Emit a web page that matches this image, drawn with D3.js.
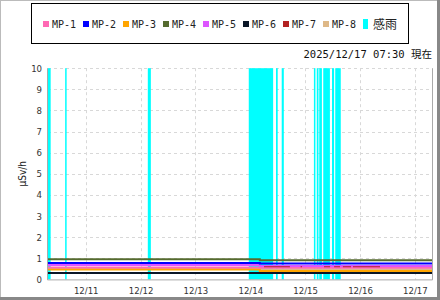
<!DOCTYPE html>
<html><head><meta charset="utf-8">
<script src="https://cdn.jsdelivr.net/npm/d3@7"></script>
<style>
body{margin:0;background:#fff;}
svg{display:block;}
</style></head>
<body>
<svg id="chart" width="440" height="300"></svg>
<script>
const categories = ["MP-1","MP-2","MP-3","MP-4","MP-5","MP-6","MP-7","MP-8"];
const seriesColors = ["#ff69b4","#0000ff","#ffa500","#556b2f","#dd55ff","#0a1626","#b22222","#deb887"];
const rainLabel = "感雨";
const rainColor = "#00ffff";
const yTicks = [0,1,2,3,4,5,6,7,8,9,10];
const xTickDates = ["2025-12-11","2025-12-12","2025-12-13","2025-12-14","2025-12-15","2025-12-16","2025-12-17"];
const xTickLabels = ["12/11","12/12","12/13","12/14","12/15","12/16","12/17"];
const timeStart = "2025-12-10T07:30";
const timeEnd = "2025-12-17T07:30";
const stampText = "2025/12/17 07:30 現在";
const yTitle = "µSv/h";

// step series [time, value]; null value = gap
const mp1 = [["2025-12-10T07:30",0.56],["2025-12-14T04:10",0.55],["2025-12-17T07:30",0.55]];
const mp2 = [["2025-12-10T07:30",0.78],["2025-12-14T04:10",0.75],["2025-12-17T07:30",0.75]];
const mp3 = [["2025-12-10T07:30",0.47],["2025-12-14T04:10",0.40],["2025-12-17T07:30",0.40]];
const mp4 = [["2025-12-10T07:30",0.96],["2025-12-14T04:10",0.91],["2025-12-17T07:30",0.91]];
const mp5 = [["2025-12-10T07:30",0.68],["2025-12-14T04:10",0.63],["2025-12-17T07:30",0.63]];
const mp6 = [["2025-12-10T07:30",0.30],["2025-12-17T07:30",0.30]];
const mp7 = [["2025-12-14T06:00",0.60],["2025-12-14T17:20",0.60],["2025-12-14T17:21",null],
             ["2025-12-14T22:00",0.60],["2025-12-14T22:40",0.60],["2025-12-14T22:41",null],
             ["2025-12-15T08:15",0.60],["2025-12-15T10:55",0.60],["2025-12-15T10:56",null],
             ["2025-12-15T12:40",0.60],["2025-12-15T15:15",0.60],["2025-12-15T15:16",null],
             ["2025-12-15T16:30",0.60],["2025-12-15T20:05",0.60],["2025-12-15T20:06",null],
             ["2025-12-15T20:55",0.60],["2025-12-16T08:45",0.60]];
const mp8 = [["2025-12-10T07:30",0.50],["2025-12-14T04:10",0.48],["2025-12-17T07:30",0.48]];
const seriesData = [mp1,mp2,mp3,mp4,mp5,mp6,mp7,mp8];
const drawOrder = [7,2,0,4,6,1,3,5];

// rain (感雨) intervals [start, end]
const rainStart = ["2025-12-10T07:30","2025-12-10T15:00","2025-12-12T03:10","2025-12-13T23:20","2025-12-14T11:15","2025-12-14T13:45",
                   "2025-12-15T03:50","2025-12-15T05:05","2025-12-15T06:10","2025-12-15T07:55","2025-12-15T11:45","2025-12-15T13:10"];
const rainEnd   = ["2025-12-10T08:40","2025-12-10T15:20","2025-12-12T04:30","2025-12-14T10:00","2025-12-14T12:00","2025-12-14T14:40",
                   "2025-12-15T04:30","2025-12-15T05:50","2025-12-15T07:20","2025-12-15T10:50","2025-12-15T12:40","2025-12-15T15:35"];

const parse = d3.timeParse("%Y-%m-%dT%H:%M");
const parseDay = d3.timeParse("%Y-%m-%d");
const svg = d3.select("#chart");
const M = {left:48, right:432, top:68.2, bottom:279.4};

const x = d3.scaleTime().domain([parse(timeStart), parse(timeEnd)]).range([M.left, M.right]);
const y = d3.scaleLinear().domain([0,10]).range([M.bottom, M.top]);

// outer frame
svg.append("rect").attr("x",0.5).attr("y",0.5).attr("width",437).attr("height",297)
  .attr("fill","none").attr("stroke","#bbb").attr("stroke-width",1);
svg.append("line").attr("x1",438.5).attr("x2",438.5).attr("y1",0).attr("y2",300).attr("stroke","#888").attr("stroke-width",3);
svg.append("line").attr("x1",0).attr("x2",440).attr("y1",298.5).attr("y2",298.5).attr("stroke","#888").attr("stroke-width",3);

// legend
const lg = svg.append("g");
lg.append("rect").attr("x",31.5).attr("y",3.5).attr("width",377).attr("height",40)
  .attr("fill","#fff").attr("stroke","#000").attr("stroke-width",1);
categories.forEach((c,i)=>{
  const lx = 43 + i*40;
  lg.append("rect").attr("x",lx).attr("y",21).attr("width",6).attr("height",6).attr("fill",seriesColors[i]);
  lg.append("text").attr("x",lx+9).attr("y",27.8).text(c)
    .attr("font-family","DejaVu Sans Mono, monospace").attr("font-size",10).attr("fill","#222");
});
lg.append("rect").attr("x",363).attr("y",19).attr("width",5).attr("height",10).attr("fill",rainColor);
lg.append("text").attr("x",373).attr("y",28.5).text(rainLabel)
  .attr("font-family","Noto Sans CJK JP, sans-serif").attr("font-size",12).attr("fill","#222");

// stamp
svg.append("text").attr("x",432).attr("y",57.5).attr("text-anchor","end")
  .attr("font-family","DejaVu Sans Mono, Noto Sans CJK JP, monospace").attr("font-size",10.5).attr("fill","#111")
  .text(stampText);

// gridlines
const grid = svg.append("g");
yTicks.filter(v=>v>0).forEach(v=>{
  grid.append("line").attr("x1",M.left).attr("x2",M.right).attr("y1",Math.round(y(v))+0.5).attr("y2",Math.round(y(v))+0.5)
    .attr("stroke","#d8d8d8").attr("stroke-dasharray","3,3");
});
xTickDates.forEach(d=>{
  const px = Math.round(x(parseDay(d)))+0.5;
  grid.append("line").attr("x1",px).attr("x2",px).attr("y1",M.top).attr("y2",M.bottom)
    .attr("stroke","#d8d8d8").attr("stroke-dasharray","3,3");
});

// rain bands
rainStart.forEach((s,i)=>{
  const x0 = x(parse(s)), x1 = x(parse(rainEnd[i]));
  svg.append("rect").attr("x",x0).attr("y",M.top).attr("width",Math.max(1.5,x1-x0)).attr("height",M.bottom-M.top)
    .attr("fill",rainColor);
});

// axes
const yAxis = d3.axisLeft(y).tickValues(yTicks).tickSize(0).tickPadding(6);
const gy = svg.append("g").attr("transform",`translate(${M.left},0)`).call(yAxis);
gy.select(".domain").remove();
gy.selectAll("text").attr("font-family","DejaVu Sans Condensed, sans-serif").attr("font-size",9.5).attr("fill","#333");

const xAxis = d3.axisBottom(x).tickValues(xTickDates.map(parseDay)).tickFormat((d,i)=>xTickLabels[i]).tickSize(0).tickPadding(8);
const gx = svg.append("g").attr("transform",`translate(0,${M.bottom})`).call(xAxis);
gx.select(".domain").remove();
gx.selectAll("text").attr("font-family","DejaVu Sans Condensed, sans-serif").attr("font-size",9.5).attr("fill","#333");

// frame lines of plot
svg.append("line").attr("x1",M.left-0.5).attr("x2",M.left-0.5).attr("y1",M.top).attr("y2",M.bottom+0.5).attr("stroke","#aaa");
svg.append("line").attr("x1",M.right+0.5).attr("x2",M.right+0.5).attr("y1",M.top).attr("y2",M.bottom+0.5).attr("stroke","#aaa");
svg.append("line").attr("x1",M.left-0.5).attr("x2",M.right+0.5).attr("y1",M.bottom+0.5).attr("y2",M.bottom+0.5).attr("stroke","#aaa");

// series
const line = d3.line().defined(d=>d[1]!==null).x(d=>x(parse(d[0]))).y(d=>y(d[1])).curve(d3.curveStepAfter);
drawOrder.forEach(i=>{
  svg.append("path").datum(seriesData[i]).attr("d",line).attr("fill","none")
    .attr("stroke",seriesColors[i]).attr("stroke-width",i===6?1.2:2);
});

// y title
svg.append("text").attr("transform",`translate(26,${(M.top+M.bottom)/2}) rotate(-90)`)
  .attr("text-anchor","middle").attr("font-family","DejaVu Sans Condensed, sans-serif").attr("font-size",10).attr("fill","#222")
  .text(yTitle);
</script>
</body></html>
